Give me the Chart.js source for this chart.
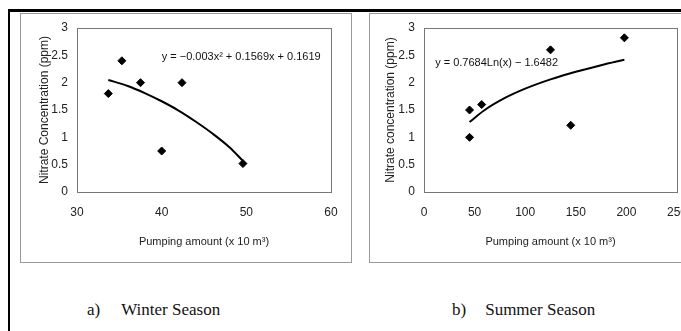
<!DOCTYPE html>
<html>
<head>
<meta charset="utf-8">
<script src="https://cdn.jsdelivr.net/npm/chart.js@4.4.0/dist/chart.umd.min.js"></script>
<style>
  html, body { margin: 0; padding: 0; background: #fff; overflow: hidden; width: 681px; height: 331px; }
  .frame { position: absolute; left: 8px; top: 9px; width: 700px; height: 400px; border-left: 2px solid #000; border-top: 3px solid #000; }
  .panel { position: absolute; top: 13px; height: 250px; border: 1px solid #999; box-sizing: border-box; }
  .wrap { position: absolute; top: 13px; height: 250px; }
  .caption { position: absolute; top: 300px; font-family: "Liberation Serif", serif; font-size: 17px; color: #111; }
</style>
</head>
<body>
<div class="frame"></div>
<div class="panel" style="left:20px;width:332px;"></div>
<div class="panel" style="left:369px;width:330px;"></div>
<div class="wrap" style="left:20px;width:332px;"><canvas id="winter"></canvas></div>
<div class="wrap" style="left:369px;width:332px;"><canvas id="summer"></canvas></div>
<div class="caption" style="left:87px;">a)<span style="margin-left:21px">Winter Season</span></div>
<div class="caption" style="left:452px;">b)<span style="margin-left:19px">Summer Season</span></div>
<script>
// Winter season (a)
const winterX = [33.7, 35.3, 37.5, 40.0, 42.4, 49.6];
const winterY = [1.8, 2.4, 2.0, 0.75, 2.0, 0.52];
const winterTrendX = [33.7, 36, 38, 40, 42, 44, 46, 48, 49.6];
const winterTrendY = [2.05, 1.94, 1.81, 1.66, 1.49, 1.29, 1.07, 0.82, 0.57];

// Summer season (b)
const summerX = [45, 45, 57, 125, 145, 198];
const summerY = [1.5, 1.0, 1.6, 2.6, 1.22, 2.82];
const summerTrendX = [45, 60, 80, 100, 125, 150, 175, 198];
const summerTrendY = [1.28, 1.5, 1.72, 1.89, 2.06, 2.2, 2.32, 2.42];

const yTicks = [0, 0.5, 1, 1.5, 2, 2.5, 3];

const tickFont = { family: 'Liberation Sans, Arial', size: 12 };
const yTitleFont = { family: 'Liberation Sans, Arial', size: 12 };
const xTitleFont = { family: 'Liberation Sans, Arial', size: 11 };

const boxPlugin = {
    id: 'box',
    afterDraw(chart, args, opts) {
        const { ctx, chartArea: a, scales } = chart;
        ctx.save();
        ctx.strokeStyle = '#777';
        ctx.lineWidth = 1;
        ctx.strokeRect(a.left + 0.5, a.top + 0.5, a.right - a.left, a.bottom - a.top);
        ctx.fillStyle = '#111';
        ctx.font = '11px "Liberation Sans", Arial';
        ctx.textBaseline = 'middle';
        ctx.fillText(opts.text, scales.x.getPixelForValue(opts.x), scales.y.getPixelForValue(opts.y));
        ctx.restore();
    }
};

function makeChart(id, xs, ys, tx, ty, xMin, xMax, xStep, yTitle, eq, padLeft, yAxisWidth, padRight) {
    const ctx = document.getElementById(id).getContext('2d');
    return new Chart(ctx, {
        type: 'scatter',
        data: {
            datasets: [{
                data: xs.map((x, i) => ({ x: x, y: ys[i] })),
                pointStyle: 'rectRot',
                pointRadius: 4,
                backgroundColor: '#000',
                borderColor: '#000'
            }, {
                type: 'line',
                data: tx.map((x, i) => ({ x: x, y: ty[i] })),
                borderColor: '#000',
                borderWidth: 2,
                pointRadius: 0,
                tension: 0.4,
                cubicInterpolationMode: 'monotone',
                fill: false
            }]
        },
        options: {
            responsive: true,
            maintainAspectRatio: false,
            animation: false,
            layout: { padding: { top: 15, right: padRight, left: padLeft, bottom: 14 } },
            plugins: {
                legend: { display: false },
                tooltip: { enabled: false },
                box: eq
            },
            scales: {
                x: {
                    type: 'linear',
                    min: xMin, max: xMax,
                    grid: { display: false },
                    border: { display: false },
                    ticks: { stepSize: xStep, color: '#222', font: tickFont, padding: 5 },
                    title: { display: true, text: 'Pumping amount (x 10 m³)', color: '#222', font: xTitleFont, padding: 0 },
                    afterFit: s => { s.height = 57; }
                },
                y: {
                    min: 0, max: 3,
                    grid: { display: false },
                    border: { display: false },
                    afterBuildTicks: s => { s.ticks = yTicks.map(v => ({ value: v })); },
                    ticks: { color: '#222', font: tickFont, padding: 1, callback: v => String(v) },
                    title: { display: true, text: yTitle, color: '#222', font: yTitleFont, padding: 0 },
                    afterFit: s => { s.width = yAxisWidth; }
                }
            }
        },
        plugins: [boxPlugin]
    });
}

makeChart('winter', winterX, winterY, winterTrendX, winterTrendY, 30, 60, 10,
    'Nitrate Concentration (ppm)',
    { text: 'y = −0.003x² + 0.1569x + 0.1619', x: 40.0, y: 2.47 }, 17, 40, 21);

makeChart('summer', summerX, summerY, summerTrendX, summerTrendY, 0, 250, 50,
    'Nitrate concentration (ppm)',
    { text: 'y = 0.7684Ln(x) − 1.6482', x: 11, y: 2.36 }, 14, 41, 24);
</script>
</body>
</html>
